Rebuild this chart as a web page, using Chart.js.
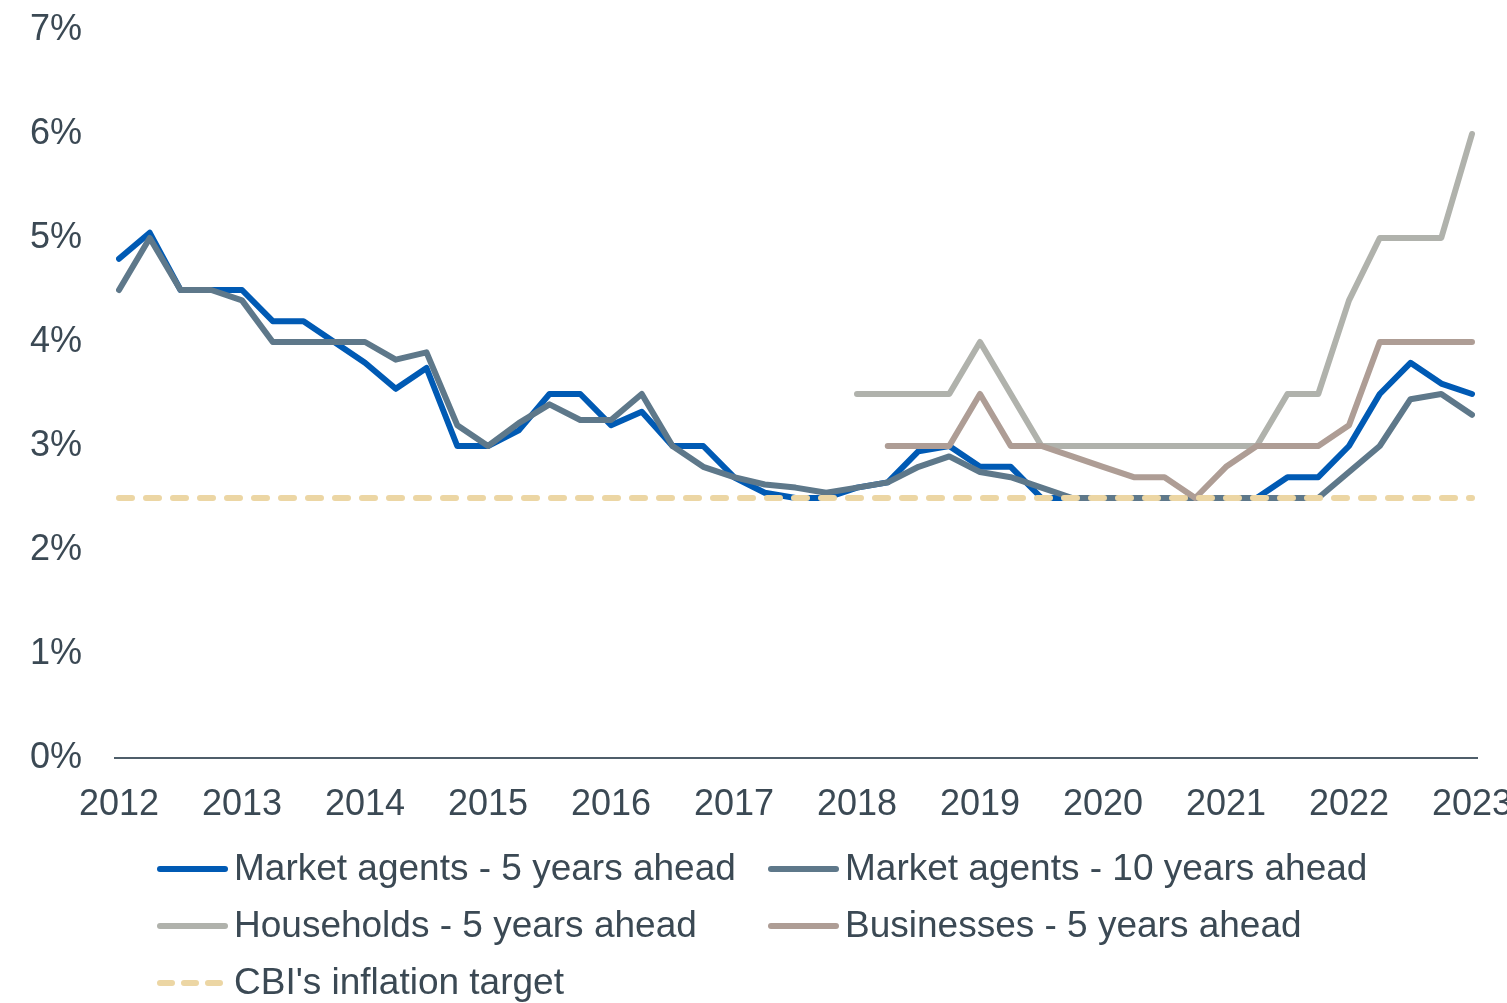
<!DOCTYPE html>
<html>
<head>
<meta charset="utf-8">
<title>Inflation expectations</title>
<script src="https://cdn.jsdelivr.net/npm/chart.js@4.4.1/dist/chart.umd.min.js"></script>
<style>
    html, body { margin: 0; padding: 0; background: #fff; }
    #chart { display: block; }
</style>
</head>
<body>
<canvas id="chart" width="1507" height="1003"></canvas>
<script>
// Données (trimestrielles, 2012 T1 -> 2023 T1)
const years = [2012, 2013, 2014, 2015, 2016, 2017, 2018, 2019, 2020, 2021, 2022, 2023];
const quarters = years.flatMap(y => ['Q1', 'Q2', 'Q3', 'Q4'].map(q => y + ' ' + q)).slice(0, 45);

const marketAgents5y = [
    4.8, 5.05, 4.5, 4.5, 4.5, 4.2, 4.2, 4.0, 3.8, 3.55, 3.75, 3.0,
    3.0, 3.15, 3.5, 3.5, 3.2, 3.33, 3.0, 3.0, 2.7, 2.55, 2.5, 2.5,
    2.6, 2.65, 2.95, 3.0, 2.8, 2.8, 2.5, 2.5, 2.5, 2.5, 2.5, 2.5,
    2.5, 2.5, 2.7, 2.7, 3.0, 3.5, 3.8, 3.6, 3.5
];
const marketAgents10y = [
    4.5, 5.0, 4.5, 4.5, 4.4, 4.0, 4.0, 4.0, 4.0, 3.83, 3.9, 3.2,
    3.0, 3.22, 3.4, 3.25, 3.25, 3.5, 3.0, 2.8, 2.7, 2.63, 2.6, 2.55,
    2.6, 2.65, 2.8, 2.9, 2.75, 2.7, 2.6, 2.5, 2.5, 2.5, 2.5, 2.5,
    2.5, 2.5, 2.5, 2.5, 2.75, 3.0, 3.45, 3.5, 3.3
];
const households5y = [
    null, null, null, null, null, null, null, null, null, null, null, null,
    null, null, null, null, null, null, null, null, null, null, null, null,
    3.5, 3.5, 3.5, 3.5, 4.0, 3.5, 3.0, 3.0, 3.0, 3.0, 3.0, 3.0,
    3.0, 3.0, 3.5, 3.5, 4.4, 5.0, 5.0, 5.0, 6.0
];
const businesses5y = [
    null, null, null, null, null, null, null, null, null, null, null, null,
    null, null, null, null, null, null, null, null, null, null, null, null,
    null, 3.0, 3.0, 3.0, 3.5, 3.0, 3.0, 2.9, 2.8, 2.7, 2.7, 2.5,
    2.8, 3.0, 3.0, 3.0, 3.2, 4.0, 4.0, 4.0, 4.0
];
const inflationTarget = quarters.map(() => 2.5);

const yTicks = [0, 1, 2, 3, 4, 5, 6, 7];

// Couleurs
const COLORS = {
    blue: '#005AB4',
    slate: '#5E788A',
    grey: '#B0B2AC',
    taupe: '#AE9D95',
    sand: '#ECD6A4',
    text: '#3B4954',
    axis: '#4F5E6A'
};

const FONT = "'Liberation Sans', Arial, sans-serif";

// Légende sur deux colonnes, façon Excel
const legendGrid = {
    id: 'legendGrid',
    afterDraw(chart) {
        const ctx = chart.ctx;
        const cols = [157, 768];
        const rows = [869, 926, 983];
        const lineLen = 71;
        ctx.save();
        chart.data.datasets.forEach((ds, i) => {
            const x = cols[i % 2];
            const y = rows[Math.floor(i / 2)];
            ctx.beginPath();
            ctx.lineWidth = 6;
            ctx.lineCap = 'round';
            ctx.strokeStyle = ds.borderColor;
            ctx.setLineDash(ds.borderDash ? [12, 12] : []);
            ctx.moveTo(x + 3, y);
            ctx.lineTo(x + lineLen - 3, y);
            ctx.stroke();
            ctx.setLineDash([]);
            ctx.fillStyle = COLORS.text;
            ctx.font = '37px ' + FONT;
            ctx.textBaseline = 'middle';
            ctx.textAlign = 'left';
            ctx.fillText(ds.label, x + lineLen + 6, y + 1);
        });
        ctx.restore();
    },
    beforeDatasetsDraw(chart) {
        // ligne de l'axe horizontal, un peu plus large que la zone du graphique
        const { ctx, chartArea, scales } = chart;
        const y0 = scales.y.getPixelForValue(0);
        ctx.save();
        ctx.beginPath();
        ctx.lineWidth = 2;
        ctx.strokeStyle = COLORS.axis;
        ctx.moveTo(chartArea.left - 5, y0);
        ctx.lineTo(chartArea.right + 6, y0);
        ctx.stroke();
        ctx.restore();
    }
};

const lineStyle = {
    borderWidth: 6,
    pointRadius: 0,
    tension: 0,
    fill: false,
    borderCapStyle: 'round',
    borderJoinStyle: 'round',
    spanGaps: false
};

new Chart(document.getElementById('chart'), {
    type: 'line',
    data: {
        labels: quarters,
        datasets: [
            { ...lineStyle, label: 'Market agents - 5 years ahead', data: marketAgents5y, borderColor: COLORS.blue, order: 4 },
            { ...lineStyle, label: 'Market agents - 10 years ahead', data: marketAgents10y, borderColor: COLORS.slate, order: 3 },
            { ...lineStyle, label: 'Households - 5 years ahead', data: households5y, borderColor: COLORS.grey, order: 2 },
            { ...lineStyle, label: 'Businesses - 5 years ahead', data: businesses5y, borderColor: COLORS.taupe, order: 1 },
            { ...lineStyle, label: "CBI's inflation target", data: inflationTarget, borderColor: COLORS.sand, borderDash: [13, 14], order: 0 }
        ]
    },
    options: {
        responsive: false,
        devicePixelRatio: 1,
        animation: false,
        layout: { padding: { top: 30, right: 35, left: 0, bottom: 175 } },
        plugins: {
            legend: { display: false },
            tooltip: { enabled: false }
        },
        scales: {
            x: {
                offset: false,
                grid: { display: false, drawTicks: false },
                border: { display: false },
                ticks: {
                    autoSkip: false,
                    maxRotation: 0,
                    padding: 25,
                    color: COLORS.text,
                    font: { family: FONT, size: 36 },
                    callback: (val, idx) => idx % 4 === 0 ? quarters[idx].slice(0, 4) : ''
                },
                afterFit: (scale) => {
                    scale.paddingLeft = 0;
                    scale.paddingRight = 0;
                    scale.height = 70;
                }
            },
            y: {
                min: 0,
                max: 7,
                afterBuildTicks: (scale) => {
                    scale.ticks = yTicks.map(v => ({ value: v }));
                },
                grid: { display: false, drawTicks: false },
                border: { display: false },
                ticks: {
                    padding: 37,
                    color: COLORS.text,
                    font: { family: FONT, size: 36 },
                    callback: (v) => v + '%'
                },
                afterFit: (scale) => {
                    scale.width = 119;
                    scale.paddingTop = 0;
                    scale.paddingBottom = 0;
                }
            }
        }
    },
    plugins: [legendGrid]
});
</script>
</body>
</html>
